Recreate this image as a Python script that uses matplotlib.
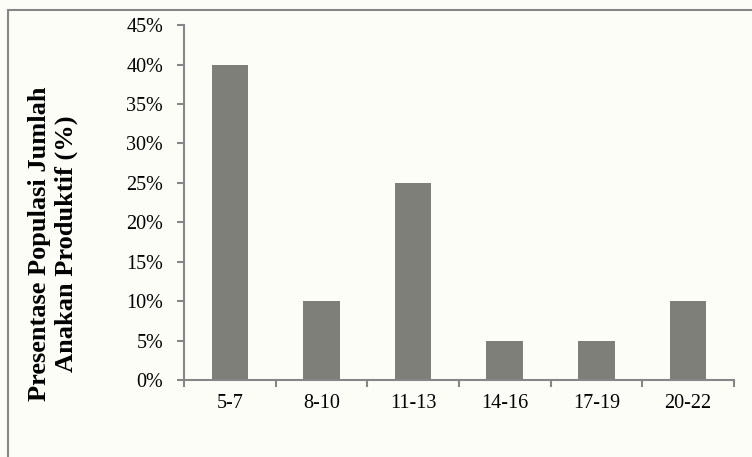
import numpy as np
import matplotlib
matplotlib.use("Agg")
import matplotlib.pyplot as plt
from matplotlib.patches import Rectangle
from matplotlib.ticker import FixedLocator, FuncFormatter

categories = ["5-7", "8-10", "11-13", "14-16", "17-19", "20-22"]
percent = [40, 10, 25, 5, 5, 10]
y_ticks = [0, 5, 10, 15, 20, 25, 30, 35, 40, 45]

plt.rcParams["font.family"] = ["Liberation Serif", "DejaVu Serif"]

bg = "#fdfdf8"
bar_color = "#7f7f79"
axis_color = "#868686"

fig = plt.figure(figsize=(7.52, 4.57), dpi=100, facecolor=bg)
ax = fig.add_axes([0.2447, 0.1685, 0.7313, 0.7765])
ax.set_facecolor("none")

x = np.arange(len(categories))
ax.bar(x, percent, width=0.4, color=bar_color)

ax.set_xlim(-0.5, len(categories) - 0.5)
ax.set_ylim(0, 45)
ax.set_yticks(y_ticks)
ax.yaxis.set_major_formatter(FuncFormatter(lambda v, _: f"{v:.0f}%"))
ax.set_xticks(x)
ax.set_xticklabels(categories)
ax.xaxis.set_minor_locator(FixedLocator(np.arange(-0.5, len(categories), 1.0)))

for side in ("top", "right"):
    ax.spines[side].set_visible(False)
for side in ("left", "bottom"):
    ax.spines[side].set_color(axis_color)
    ax.spines[side].set_linewidth(1.5)

ax.tick_params(axis="y", length=5, width=1.5, color=axis_color, labelsize=14.5, pad=10)
ax.tick_params(axis="x", which="major", length=0, labelsize=14.5, pad=10)
ax.tick_params(axis="x", which="minor", length=5, width=1.5, color=axis_color)

fig.text(0.0705, 0.466, "Presentase Populasi Jumlah\nAnakan Produktif (%)",
         rotation=90, ha="center", va="center", fontsize=19,
         fontweight="bold", linespacing=1.2)

# chart frame
fig.add_artist(Rectangle((8 / 752, -0.05), 1.0, 1 - 10 / 457 + 0.05,
                         transform=fig.transFigure, fill=False,
                         edgecolor=axis_color, linewidth=1.5))

fig.savefig("out.png", dpi=100, facecolor=bg)
